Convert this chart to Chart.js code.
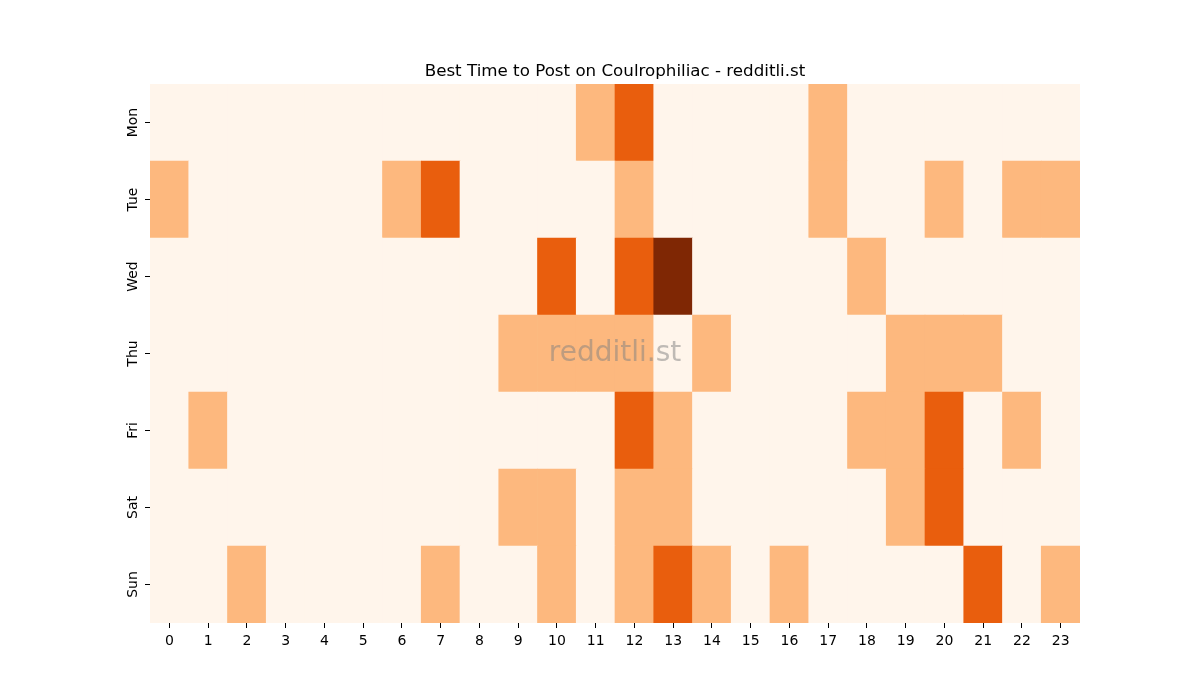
<!DOCTYPE html>
<html lang="en-us">
<head>
<meta charset="UTF-8">
<title>Best Time to Post on Coulrophiliac</title>
<script src="https://cdn.jsdelivr.net/npm/chart.js"></script>
<style>
	body {padding: 0; margin: 0; background: #fff;}
	#chartContainer { width: 1200px; height: 700px; }
</style>
</head>
<body>
<div id="chartContainer">
    <canvas id="myChart"></canvas>
</div>
<script>
// hours across, days down (Mon at top)
var hours = ['0','1','2','3','4','5','6','7','8','9','10','11','12','13','14','15','16','17','18','19','20','21','22','23'];
var days = ['Mon', 'Tue', 'Wed', 'Thu', 'Fri', 'Sat', 'Sun'];

// post activity level per hour (0-3)
var mon = [0,0,0,0,0,0,0,0,0,0,0,1,2,0,0,0,0,1,0,0,0,0,0,0];
var tue = [1,0,0,0,0,0,1,2,0,0,0,0,1,0,0,0,0,1,0,0,1,0,1,1];
var wed = [0,0,0,0,0,0,0,0,0,0,2,0,2,3,0,0,0,0,1,0,0,0,0,0];
var thu = [0,0,0,0,0,0,0,0,0,1,1,1,1,0,1,0,0,0,0,1,1,1,0,0];
var fri = [0,1,0,0,0,0,0,0,0,0,0,0,2,1,0,0,0,0,1,1,2,0,1,0];
var sat = [0,0,0,0,0,0,0,0,0,1,1,0,1,1,0,0,0,0,0,1,2,0,0,0];
var sun = [0,0,1,0,0,0,0,1,0,0,1,0,1,2,1,0,1,0,0,0,0,2,0,1];

var rows = [mon, tue, wed, thu, fri, sat, sun];
var palette = ['#fff5eb', '#fdb87e', '#e95e0d', '#7f2704'];

// one stacked dataset per day, Sun at the bottom
var datasets = [];
for (var d = days.length - 1; d >= 0; d--) {
    datasets.push({
        label: days[d],
        data: rows[d].map(function() { return 1; }),
        levels: rows[d],
        backgroundColor: rows[d].map(function(v) { return palette[v]; }),
        borderWidth: 0,
        barPercentage: 1,
        categoryPercentage: 1
    });
}

var watermark = {
    id: 'watermark',
    afterDatasetsDraw: function(chart) {
        var a = chart.chartArea, ctx = chart.ctx;
        ctx.save();
        ctx.font = '28px "DejaVu Sans"';
        ctx.fillStyle = 'rgba(128,128,128,0.5)';
        ctx.textAlign = 'center';
        ctx.textBaseline = 'middle';
        ctx.fillText('redditli.st', (a.left + a.right) / 2, (a.top + a.bottom) / 2);
        ctx.restore();
    }
};

var myChart = new Chart(document.getElementById('myChart').getContext('2d'), {
    type: 'bar',
    data: { labels: hours, datasets: datasets },
    plugins: [watermark],
    options: {
        responsive: true,
        maintainAspectRatio: false,
        animation: false,
        layout: { padding: { left: 120, right: 120, top: 0, bottom: 37 } },
        plugins: {
            legend: { display: false },
            tooltip: { enabled: false },
            title: {
                display: true,
                fullSize: false,
                text: 'Best Time to Post on Coulrophiliac - redditli.st',
                color: '#000',
                font: { family: 'DejaVu Sans', size: 16.7, weight: 'normal' },
                padding: { top: 62, bottom: 2 }
            }
        },
        scales: {
            x: {
                stacked: true,
                border: { display: false },
                grid: { drawOnChartArea: false, offset: false, tickLength: 5, tickColor: '#000' },
                ticks: { color: '#000', padding: 5, maxRotation: 0, font: { family: 'DejaVu Sans', size: 14 } },
                afterFit: function(scale) { scale.height = 40; }
            },
            y: {
                stacked: true,
                min: 0,
                max: 7,
                border: { display: false },
                grid: { drawOnChartArea: false, tickLength: 5, tickColor: '#000' },
                afterBuildTicks: function(scale) {
                    scale.ticks = [0.5, 1.5, 2.5, 3.5, 4.5, 5.5, 6.5].map(function(v) { return { value: v }; });
                },
                ticks: {
                    color: '#000',
                    padding: -4,
                    minRotation: 90,
                    maxRotation: 90,
                    crossAlign: 'center',
                    font: { family: 'DejaVu Sans', size: 14 },
                    callback: function(value) { return days[6 - Math.floor(value)]; }
                },
                afterFit: function(scale) { scale.width = 30; }
            }
        }
    }
});
</script>
</body>
</html>
